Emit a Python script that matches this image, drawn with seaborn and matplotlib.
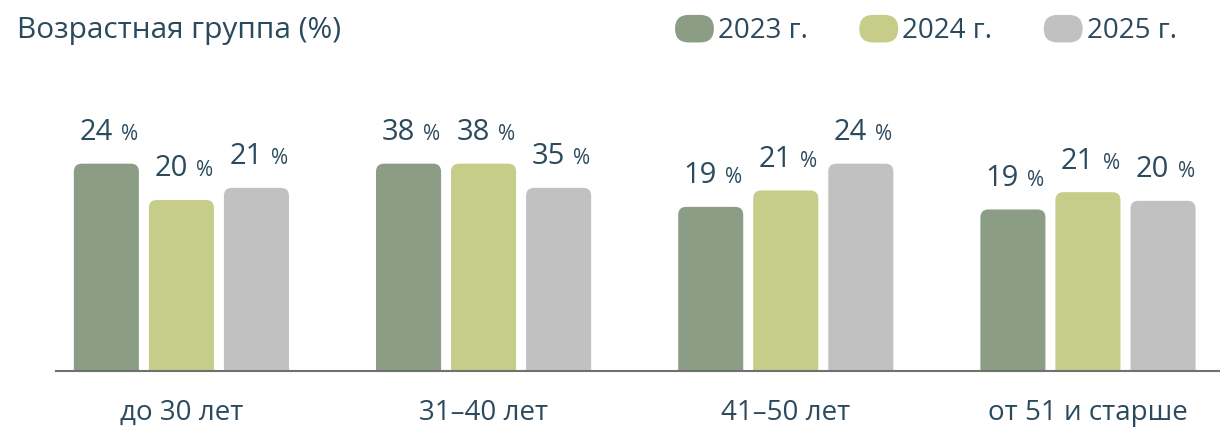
import numpy as np
import pandas as pd
import matplotlib
matplotlib.use("Agg")
import matplotlib.pyplot as plt
from matplotlib.patches import FancyBboxPatch
from matplotlib.legend_handler import HandlerPatch
import seaborn as sns

# data
groups = ["до 30 лет", "31–40 лет", "41–50 лет", "от 51 и старше"]
years = ["2023 г.", "2024 г.", "2025 г."]
# printed percentages
labels_2023 = [24, 38, 19, 19]
labels_2024 = [20, 38, 21, 21]
labels_2025 = [21, 35, 24, 20]
# bar heights as drawn (the 31–40 group is not drawn to the label scale)
heights_2023 = [24.0, 24.0, 19.0, 18.7]
heights_2024 = [19.8, 24.0, 20.9, 20.7]
heights_2025 = [21.2, 21.2, 24.0, 19.7]

colors = ["#8b9e85", "#c5cd88", "#c1c1c1"]
text_color = "#2b4a5e"

df = pd.DataFrame({
    "group": groups * 3,
    "year": np.repeat(years, len(groups)),
    "height": heights_2023 + heights_2024 + heights_2025,
    "label": labels_2023 + labels_2024 + labels_2025,
})

sns.set_theme(style="white")
plt.rcParams["font.family"] = ["Open Sans", "DejaVu Sans"]

W, H = 1220, 428
fig = plt.figure(figsize=(W / 100, H / 100), dpi=100)
# axes from baseline (y=371px) up, spanning x 56px..1220px
ax = fig.add_axes([56 / W, (H - 371) / H, (W - 56) / W, 311 / H])

sns.barplot(data=df, x="group", y="height", hue="year", palette=colors,
            width=0.745, gap=0.133, saturation=1, legend=False, ax=ax)

ax.set_xlim(-0.415, 3.437)
ax.set_ylim(0, 36.0)

# round the top corners of each bar
px_x = ax.bbox.width / (3.437 + 0.415)
px_y = ax.bbox.height / 36.0
r_px = 8
rx = r_px / px_x
ry = r_px / px_y
for cont, year, col in zip(ax.containers, years, colors):
    labs = df.loc[df["year"] == year, "label"].tolist()
    for bar, lab in zip(cont, labs):
        x, w, h = bar.get_x(), bar.get_width(), bar.get_height()
        bar.set_visible(False)
        ax.add_patch(FancyBboxPatch((x, -ry), w, h + ry,
                                    boxstyle=f"round,pad=0,rounding_size={rx}",
                                    mutation_aspect=ry / rx,
                                    facecolor=col, edgecolor="none", clip_on=True))
        cx = x + w / 2
        ax.annotate(f"{lab}", (cx, h), xytext=(4.5, 17), textcoords="offset points",
                    ha="right", va="baseline", fontsize=21, color=text_color)
        ax.annotate("%", (cx, h), xytext=(10.5, 17), textcoords="offset points",
                    ha="left", va="baseline", fontsize=15, color=text_color)

for s in ["top", "right", "left"]:
    ax.spines[s].set_visible(False)
ax.spines["bottom"].set_color("#707070")
ax.spines["bottom"].set_linewidth(1.5)
ax.set_yticks([])
ax.set_xlabel("")
ax.set_ylabel("")
ax.tick_params(axis="x", length=0, pad=20, labelsize=20, labelcolor=text_color)

fig.text(17 / W, 1 - 38 / H, "Возрастная группа (%)", ha="left", va="baseline",
         fontsize=21.5, color=text_color)


class PillHandler(HandlerPatch):
    def create_artists(self, legend, orig_handle, xdescent, ydescent,
                       width, height, fontsize, trans):
        p = FancyBboxPatch((-xdescent, -ydescent), width, height,
                           boxstyle=f"round,pad=0,rounding_size={height / 2}",
                           facecolor=orig_handle.get_facecolor(), edgecolor="none",
                           transform=trans)
        return [p]


handles = [plt.Rectangle((0, 0), 1, 1, facecolor=c) for c in colors]
fig.legend(handles, years, loc="center left", bbox_to_anchor=(675 / W, 1 - 30 / H),
           ncol=3, frameon=False, fontsize=20, labelcolor=text_color,
           handlelength=1.4, handleheight=1.15, handletextpad=0.15,
           columnspacing=1.85, borderpad=0, borderaxespad=0,
           handler_map={plt.Rectangle: PillHandler()})

fig.savefig("out.png", dpi=100)
